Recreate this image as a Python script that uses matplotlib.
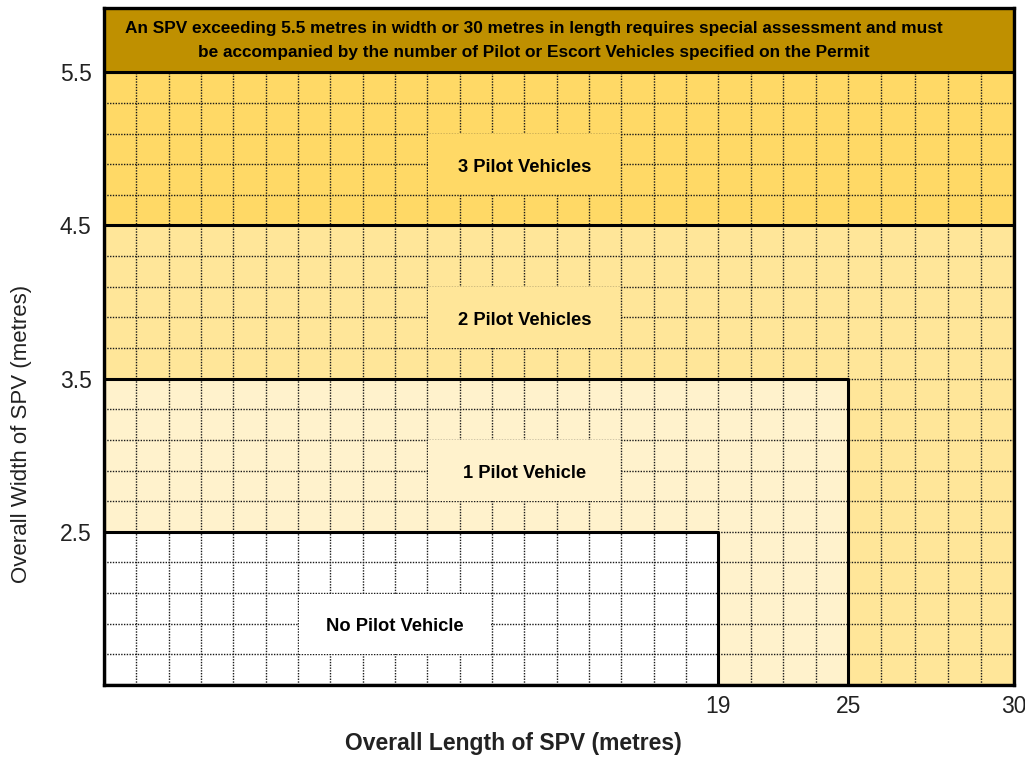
import numpy as np
import matplotlib.pyplot as plt

plt.rcParams['font.family'] = ['Liberation Sans', 'DejaVu Sans']

# zones: max length / max width for each pilot requirement
zone_names = ["No Pilot Vehicle", "1 Pilot Vehicle", "2 Pilot Vehicles", "3 Pilot Vehicles"]
zone_max_length = [19, 25, 30, 30]
zone_max_width = [2.5, 3.5, 4.5, 5.5]
zone_colors = ["#FFFFFF", "#FFF2CC", "#FFE699", "#FFD966"]
label_x = [9, 13, 13, 13]
label_y = [1.9, 2.9, 3.9, 4.9]

x_ticks = [19, 25, 30]
y_ticks = [2.5, 3.5, 4.5, 5.5]
width_min = 1.5
width_top = 5.92

note = ("An SPV exceeding 5.5 metres in width or 30 metres in length requires special assessment and must\n"
        "be accompanied by the number of Pilot or Escort Vehicles specified on the Permit")

# length axis is drawn as grid cells: 0-19 ~one cell per metre, 19-25 in 4 cells, 25-30 in 5 cells
len_pts = [0, 19, 25, 30]
cell_pts = [0, 18.9, 22.9, 28]

def fwd(x):
    return np.interp(x, len_pts, cell_pts)

def inv(c):
    return np.interp(c, cell_pts, len_pts)

fig = plt.figure(figsize=(10.25, 7.58), dpi=100)
ax = fig.add_axes([104/1025, 1 - 685/758, 910/1025, 677/758])
ax.set_xscale('function', functions=(fwd, inv))
ax.set_xlim(0, 30)
ax.set_ylim(width_min, width_top)

# zones, biggest first
for i in range(len(zone_names) - 1, -1, -1):
    ax.fill_between([0, zone_max_length[i]], width_min, zone_max_width[i],
                    facecolor=zone_colors[i], edgecolor='none', zorder=1 + (3 - i) * 0.1)

# dotted grid (below 5.5 only)
grid_x = np.concatenate([np.linspace(0, 19, 20), np.linspace(19, 25, 5)[1:], np.linspace(25, 30, 6)[1:-1]])
grid_y = np.arange(width_min + 0.2, 5.5, 0.2)
ax.vlines(grid_x, width_min, 5.5, colors='#1a1a1a', linestyles=(0, (1, 1)), linewidth=1.0, zorder=2)
ax.hlines(grid_y, 0, 30, colors='#1a1a1a', linestyles=(0, (1, 1)), linewidth=1.0, zorder=2)

# zone outlines on top of grid
for i in range(len(zone_names)):
    ax.fill_between([0, zone_max_length[i]], width_min, zone_max_width[i],
                    facecolor='none', edgecolor='black', linewidth=2.2, zorder=3)

# top band
ax.fill_between([0, 30], 5.5, width_top, facecolor='#BF9000', edgecolor='black', linewidth=2.2, zorder=3)
ax.text(13.3, 5.709, note, ha='center', va='center', fontsize=12.4, fontweight='bold',
        linespacing=1.7, zorder=4)

# labels sit in a 6 x 2 cell box that hides the grid
for name, lx, ly, c in zip(zone_names, label_x, label_y, zone_colors):
    ax.fill_between([lx - 2.97, lx + 2.97], ly - 0.197, ly + 0.197, facecolor=c, edgecolor='none', zorder=2.5)
    ax.text(lx, ly - 0.02, name, ha='center', va='center', fontsize=13.2, fontweight='bold', zorder=4)

ax.set_xticks(x_ticks)
ax.set_xticklabels([str(t) for t in x_ticks])
ax.set_yticks(y_ticks)
ax.set_yticklabels([str(t) for t in y_ticks])
ax.xaxis.set_minor_locator(plt.NullLocator())
ax.tick_params(axis='both', length=0, labelsize=16.5, labelcolor='#222222')
ax.tick_params(axis='x', pad=7)
ax.tick_params(axis='y', pad=9)

for s in ax.spines.values():
    s.set_linewidth(2.4)
    s.set_zorder(5)

ax.set_xlabel("Overall Length of SPV (metres)", fontsize=16.5, fontweight='bold', color='#222222')
ax.xaxis.set_label_coords(0.45, -0.069)
ax.set_ylabel("Overall Width of SPV (metres)", fontsize=16, color='#222222')
ax.yaxis.set_label_coords(-0.079, 0.371)

fig.savefig("out.png", dpi=100)
